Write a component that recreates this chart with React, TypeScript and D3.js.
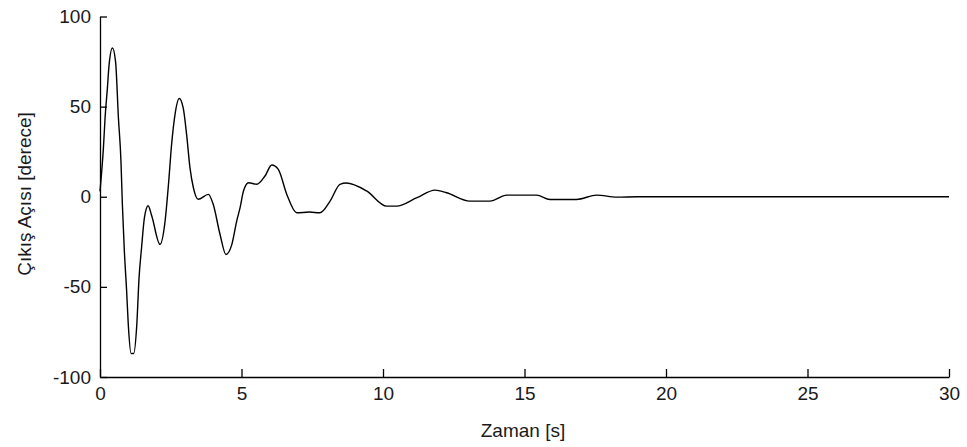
import React, { useEffect, useRef } from 'react';
import * as d3 from 'd3';

// zaman [s] ve çıkış açısı [derece]
const times = [
  0, 0.06, 0.12, 0.18, 0.26, 0.32, 0.44, 0.55, 0.65, 0.74, 0.79, 0.86, 0.94, 1.0, 1.1, 1.19,
  1.3, 1.38, 1.47, 1.57, 1.7, 1.83, 2.12, 2.3, 2.42, 2.53, 2.65, 2.8, 2.94, 3.06, 3.18, 3.3,
  3.47, 3.83, 4.0, 4.24, 4.45, 4.66, 4.83, 4.95, 5.07, 5.25, 5.54, 5.83, 6.07, 6.3, 6.6, 6.95,
  7.4, 7.77, 8.13, 8.48, 8.7, 9.42, 10.13, 10.48, 11.2, 11.84, 12.25, 13.07, 13.78, 14.37,
  15.43, 15.9, 16.84, 17.55, 18.26, 19, 30,
];
const angles = [
  3, 14, 27, 44, 60, 73, 82.5, 75, 44, 20, -4, -30, -52, -71, -87, -87,
  -71, -45, -28, -11.6, -5, -10.7, -26.4, -13.5, 6.9, 29, 45.6, 54.5, 49.3, 34.6, 16, 5,
  -1.4, 1.3, -4.2, -20.8, -32, -26.4, -13.5, -6, 3.2, 7.8, 6.9, 11.5, 17.6, 15.2, 1.3, -8.9,
  -8.5, -8.9, -2.4, 6.9, 7.6, 3.2, -5.2, -5.2, -0.5, 3.7, 2.2, -2.4, -2.4, 0.9,
  0.9, -1.5, -1.5, 0.9, -0.2, 0, 0,
];
const xTicks = [0, 5, 10, 15, 20, 25, 30];
const yTicks = [-100, -50, 0, 50, 100];

const W = 967;
const H = 447;

export default function App() {
  const ref = useRef<SVGSVGElement>(null);

  useEffect(() => {
    document.body.style.margin = '0';
    const svg = d3.select(ref.current);
    svg.selectAll('*').remove();

    const x = d3.scaleLinear().domain([0, 30]).range([100, 949]);
    const y = d3.scaleLinear().domain([-100, 100]).range([377, 16.5]);
    const font = 'Liberation Sans, Arial, sans-serif';

    const pts = times.map((t, i) => [t, angles[i]] as [number, number]);
    const line = d3
      .line<[number, number]>()
      .x((d) => x(d[0]))
      .y((d) => y(d[1]))
      .curve(d3.curveMonotoneX);

    svg
      .append('path')
      .attr('d', line(pts))
      .attr('fill', 'none')
      .attr('stroke', '#000')
      .attr('stroke-width', 1.4);

    const xAxis = svg
      .append('g')
      .attr('transform', `translate(0,${y(-100)})`)
      .call(
        d3
          .axisBottom(x)
          .tickValues(xTicks)
          .tickFormat((d) => String(d))
          .tickSizeInner(-8)
          .tickSizeOuter(0)
          .tickPadding(10),
      );
    const yAxis = svg
      .append('g')
      .attr('transform', `translate(${x(0)},0)`)
      .call(
        d3
          .axisLeft(y)
          .tickValues(yTicks)
          .tickFormat((d) => String(d))
          .tickSizeInner(-7)
          .tickSizeOuter(0)
          .tickPadding(9),
      );

    [xAxis, yAxis].forEach((g) => {
      g.select('.domain').attr('stroke', '#000').attr('stroke-width', 1.3);
      g.selectAll('.tick line').attr('stroke', '#000').attr('stroke-width', 1.3);
      g.selectAll('.tick text')
        .attr('fill', '#1a1a1a')
        .style('font-family', font)
        .style('font-size', '19px');
    });

    svg
      .append('text')
      .attr('x', 523)
      .attr('y', 437)
      .attr('text-anchor', 'middle')
      .attr('fill', '#1a1a1a')
      .style('font-family', font)
      .style('font-size', '19px')
      .text('Zaman [s]');

    svg
      .append('text')
      .attr('transform', 'rotate(-90)')
      .attr('x', -194)
      .attr('y', 31)
      .attr('text-anchor', 'middle')
      .attr('fill', '#1a1a1a')
      .style('font-family', font)
      .style('font-size', '19px')
      .text('Çıkış Açısı [derece]');
  }, []);

  return (
    <svg
      ref={ref}
      width={W}
      height={H}
      viewBox={`0 0 ${W} ${H}`}
      style={{ display: 'block', background: '#fff' }}
    />
  );
}
